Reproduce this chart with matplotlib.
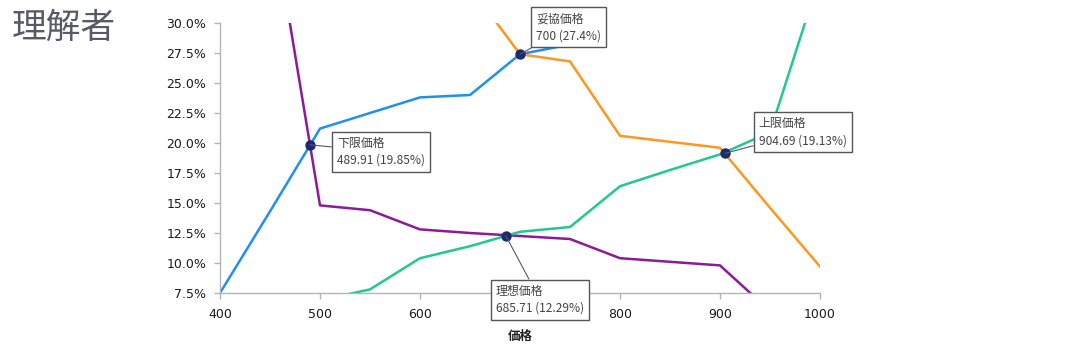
import matplotlib
matplotlib.use("Agg")
import matplotlib.pyplot as plt
from matplotlib.ticker import FuncFormatter

plt.rcParams['font.family'] = ['Noto Sans CJK JP', 'DejaVu Sans']

prices = [400, 450, 500, 550, 600, 650, 700, 750, 800, 850, 900, 950, 1000]
blue   = [7.5, 14.3, 21.2, 22.5, 23.8, 24.0, 27.4, 28.2, 32.0, 34.0, 36.0, 38.0, 40.0]
orange = [45.0, 40.0, 36.0, 34.5, 34.0, 33.0, 27.4, 26.8, 20.6, 20.1, 19.6, 14.6, 9.7]
purple = [55.0, 40.0, 14.8, 14.4, 12.8, 12.5, 12.25, 12.0, 10.4, 10.1, 9.8, 6.0, 5.0]
green  = [5.0, 6.0, 6.9, 7.8, 10.4, 11.4, 12.6, 13.0, 16.4, 17.75, 19.05, 20.9, 33.9]

pt_labels = ['下限価格', '妥協価格', '理想価格', '上限価格']
pt_x = [489.91, 700.0, 685.71, 904.69]
pt_y = [19.85, 27.4, 12.29, 19.13]
pt_text = ['489.91 (19.85%)', '700 (27.4%)', '685.71 (12.29%)', '904.69 (19.13%)']
# label offsets in pixels relative to the point (text left edge, vertical center)
pt_offsets = [(27, -7), (16, 27), (-10, -64), (34, 21)]

fig = plt.figure(figsize=(10.91, 3.45), dpi=100)
ax = fig.add_axes([220/1091, 52/345, 600/1091, 270/345])

ax.plot(prices, blue, color='#1f8ff0', lw=1.8, zorder=2)
ax.plot(prices, orange, color='#ff961e', lw=1.8, zorder=2)
ax.plot(prices, purple, color='#8c1a99', lw=1.8, zorder=2)
ax.plot(prices, green, color='#20c98c', lw=1.8, zorder=2)

ax.set_xlim(400, 1000)
ax.set_ylim(7.5, 30)
ax.set_xticks([400, 500, 600, 700, 800, 900, 1000])
ax.set_yticks([7.5, 10, 12.5, 15, 17.5, 20, 22.5, 25, 27.5, 30])
ax.yaxis.set_major_formatter(FuncFormatter(lambda v, p: f"{v:.1f}%"))

for s in ['top', 'right']:
    ax.spines[s].set_visible(False)
for s in ['left', 'bottom']:
    ax.spines[s].set_color('#b5b5b5')
    ax.spines[s].set_linewidth(1.0)
ax.tick_params(axis='both', colors='#b5b5b5', labelcolor='#1a1a1a', labelsize=9, length=4, width=1)
ax.tick_params(axis='x', pad=7)
ax.tick_params(axis='y', pad=6)
for lab in ax.get_xticklabels() + ax.get_yticklabels():
    lab.set_family(['DejaVu Sans'])

ax.set_xlabel('価格', fontsize=9, fontweight='bold', color='#222222', labelpad=6)

ax.scatter(pt_x, pt_y, s=42, color='#1b2a6b', zorder=5, clip_on=False)

for lab, x, y, t, off in zip(pt_labels, pt_x, pt_y, pt_text, pt_offsets):
    ax.annotate(f"{lab}\n{t}", xy=(x, y), xytext=off, textcoords='offset pixels',
                ha='left', va='center', fontsize=8.6, color='#444444', linespacing=1.4,
                bbox=dict(boxstyle='square,pad=0.42', fc='white', ec='#555555', lw=1.0),
                arrowprops=dict(arrowstyle='-', color='#55557a', lw=0.8, shrinkA=0, shrinkB=0),
                zorder=6, annotation_clip=False)

fig.text(12/1091, 1 - 28/345, '理解者', fontsize=25, color='#555a66', ha='left', va='center')

fig.savefig('out.png', dpi=100)
